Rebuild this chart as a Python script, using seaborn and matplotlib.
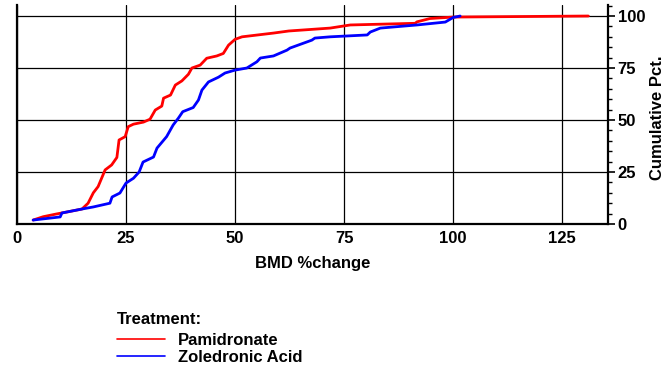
import pandas as pd
import seaborn as sns
import matplotlib.pyplot as plt
from matplotlib.ticker import MultipleLocator

pam_x = [3.7, 6.0, 9.0, 12.0, 14.9, 16.3, 17.5, 18.6, 20.2, 21.7, 22.9, 23.4, 24.8, 25.5,
         26.7, 29.0, 30.5, 31.7, 33.2, 33.6, 35.2, 36.3, 37.8, 39.3, 40.1, 42.0, 43.5,
         45.8, 47.3, 48.5, 50.0, 51.6, 58.8, 62.3, 71.8, 76.4, 91.3, 91.7, 94.7, 100.0, 131.0]
pam_y = [1.9, 3.5, 4.8, 6.0, 7.2, 10.0, 15.0, 18.0, 26.0, 28.4, 32.0, 40.4, 42.0, 46.8,
         48.0, 49.0, 50.4, 54.8, 56.7, 60.5, 62.0, 66.8, 68.8, 72.0, 75.0, 76.4, 79.7,
         80.8, 82.0, 86.0, 88.8, 90.0, 91.8, 92.8, 94.2, 95.7, 96.5, 97.2, 98.8, 99.5, 100.0]

zol_x = [3.7, 9.9, 10.3, 14.9, 17.5, 21.3, 21.8, 23.6, 25.0, 26.7, 28.0, 28.9, 31.3, 32.1,
         34.3, 35.8, 37.0, 38.0, 40.4, 41.6, 42.4, 43.9, 46.2, 47.7, 50.0, 52.7, 55.0,
         55.8, 58.8, 61.9, 62.6, 67.6, 68.3, 71.8, 80.3, 81.0, 83.3, 91.7, 98.2, 100.0, 101.6]
zol_y = [1.9, 3.4, 5.3, 7.2, 8.2, 10.0, 13.0, 14.9, 19.7, 22.0, 25.0, 29.8, 32.2, 36.5,
         42.0, 47.6, 50.9, 54.0, 56.0, 59.6, 64.4, 68.3, 70.6, 72.6, 74.0, 75.0, 78.0,
         79.8, 80.8, 83.6, 84.6, 88.4, 89.4, 90.0, 90.9, 92.3, 94.2, 95.7, 97.1, 99.3, 100.0]

treatments = ["Pamidronate", "Zoledronic Acid"]
colors = ["#ff0000", "#0000ff"]

df = pd.concat([
    pd.DataFrame({"BMD": pam_x, "pct": pam_y, "Treatment": treatments[0]}),
    pd.DataFrame({"BMD": zol_x, "pct": zol_y, "Treatment": treatments[1]}),
])

sns.set_style("white")
plt.rcParams["font.family"] = ["Liberation Sans", "DejaVu Sans"]
plt.rcParams["font.weight"] = "bold"
plt.rcParams["text.color"] = "black"
plt.rcParams["axes.labelcolor"] = "black"
plt.rcParams["xtick.color"] = "black"
plt.rcParams["ytick.color"] = "black"

fs = 12

fig = plt.figure(figsize=(6.65, 3.7), dpi=100)
ax = fig.add_axes([17 / 665, 1 - 224 / 370, (608 - 17) / 665, (224 - 5) / 370])

sns.lineplot(data=df, x="BMD", y="pct", hue="Treatment", palette=colors,
             estimator=None, sort=False, linewidth=2, ax=ax)

ax.set_xlim(0, 135.5)
ax.set_ylim(0, 105.3)
ax.xaxis.set_major_locator(MultipleLocator(25))
ax.yaxis.set_major_locator(MultipleLocator(25))
ax.yaxis.set_minor_locator(MultipleLocator(5))
ax.grid(True, which="major", color="black", linewidth=0.9)
ax.set_axisbelow(True)

ax.yaxis.tick_right()
ax.tick_params(axis="y", which="major", length=5, width=1.2, pad=2,
               labelsize=fs, right=True, left=False)
ax.tick_params(axis="y", which="minor", length=3, width=1.0, right=True, left=False)
ax.tick_params(axis="x", length=0, pad=5, labelsize=fs)
for lab in ax.get_xticklabels() + ax.get_yticklabels():
    lab.set_fontweight("bold")

for side in ["left", "bottom", "right"]:
    ax.spines[side].set_visible(True)
    ax.spines[side].set_color("black")
    ax.spines[side].set_linewidth(1.6)
ax.spines["top"].set_visible(False)

ax.set_xlabel("BMD %change", fontsize=fs, fontweight="bold", labelpad=7)
ax.set_ylabel("")
fig.text(657 / 665, 1 - 118 / 370, "Cumulative Pct.", rotation=90, ha="center",
         va="center", fontsize=fs, fontweight="bold")

# legend below the plot, title written separately
handles, labels = ax.get_legend_handles_labels()
ax.get_legend().remove()
fig.text(117 / 665, 1 - 320 / 370, "Treatment:", ha="left", va="center",
         fontsize=fs, fontweight="bold")
leg = fig.legend(handles, labels, loc="upper left",
                 bbox_to_anchor=(117 / 665, 1 - 333 / 370), frameon=False,
                 borderaxespad=0, handlelength=2.9, handletextpad=0.78,
                 labelspacing=0.12, borderpad=0, prop={"size": fs, "weight": "bold"})
for line in leg.get_lines():
    line.set_linewidth(1.2)

fig.savefig("out.png", dpi=100)
